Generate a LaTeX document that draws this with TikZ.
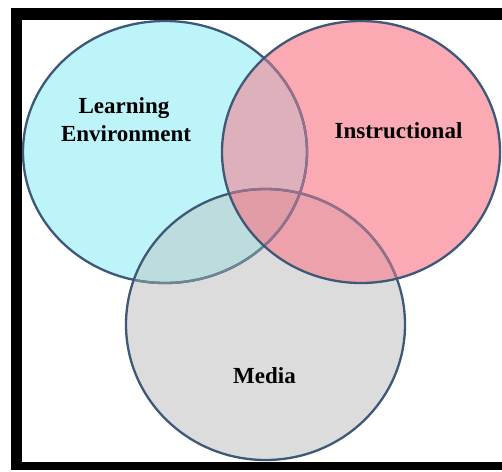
\documentclass[tikz,border=0pt]{standalone}
\usepackage{fontspec}
\setmainfont{Liberation Serif}
\begin{document}
\begin{tikzpicture}[x=1pt,y=-1pt,
  edge/.style={draw=edgec,line width=2.3pt},
  lbl/.style={anchor=base,inner sep=0pt,font=\fontsize{23}{28}\selectfont\bfseries,text=black}]
\definecolor{cyanf}{HTML}{BDF4FA}
\definecolor{pinkf}{HTML}{FBA9B3}
\definecolor{grayf}{HTML}{DCDCDC}
\definecolor{cgf}{HTML}{BCDCDE}
\definecolor{cpf}{HTML}{DEB0BB}
\definecolor{gpf}{HTML}{EDA1AA}
\definecolor{cgpf}{HTML}{E29CA6}
\definecolor{edgec}{HTML}{3E5878}
\definecolor{fadeg}{HTML}{6E8694}
\definecolor{fadep}{HTML}{94708A}
\useasboundingbox (0,0) rectangle (502,471);
\fill[white] (0,0) rectangle (502,471);
\fill[black] (11,8) rectangle (502,470);
\fill[white] (22,20) rectangle (502,462);
% base fills
\fill[cyanf] (165,152) ellipse [x radius=142pt,y radius=131pt];
\fill[grayf] (265.5,324.5) ellipse [x radius=139.5pt,y radius=135.5pt];
\fill[pinkf] (361,152) ellipse [x radius=139pt,y radius=131pt];
% overlaps
\begin{scope}
  \clip (165,152) ellipse [x radius=142pt,y radius=131pt];
  \fill[cgf] (265.5,324.5) ellipse [x radius=139.5pt,y radius=135.5pt];
  \fill[cpf] (361,152) ellipse [x radius=139pt,y radius=131pt];
\end{scope}
\begin{scope}
  \clip (265.5,324.5) ellipse [x radius=139.5pt,y radius=135.5pt];
  \fill[gpf] (361,152) ellipse [x radius=139pt,y radius=131pt];
\end{scope}
\begin{scope}
  \clip (165,152) ellipse [x radius=142pt,y radius=131pt];
  \clip (265.5,324.5) ellipse [x radius=139.5pt,y radius=135.5pt];
  \fill[cgpf] (361,152) ellipse [x radius=139pt,y radius=131pt];
\end{scope}
% outlines
\draw[edge] (165,152) ellipse [x radius=142pt,y radius=131pt];
\begin{scope}
  \clip (265.5,324.5) ellipse [x radius=139.5pt,y radius=135.5pt];
  \draw[edge,draw=fadeg] (165,152) ellipse [x radius=142pt,y radius=131pt];
\end{scope}
\draw[edge] (265.5,324.5) ellipse [x radius=139.5pt,y radius=135.5pt];
\begin{scope}
  \clip (361,152) ellipse [x radius=139pt,y radius=131pt];
  \draw[edge,draw=fadep] (165,152) ellipse [x radius=142pt,y radius=131pt];
  \draw[edge,draw=fadep] (265.5,324.5) ellipse [x radius=139.5pt,y radius=135.5pt];
\end{scope}
\draw[edge] (361,152) ellipse [x radius=139pt,y radius=131pt];
% labels
\node[lbl] (learn) at (124,113) {Learning};
\node[lbl] (env) at (126,141) {Environment};
\node[lbl] (instr) at (398.5,138) {Instructional};
\node[lbl] (media) at (264.5,383) {Media};
\end{tikzpicture}
\end{document}
